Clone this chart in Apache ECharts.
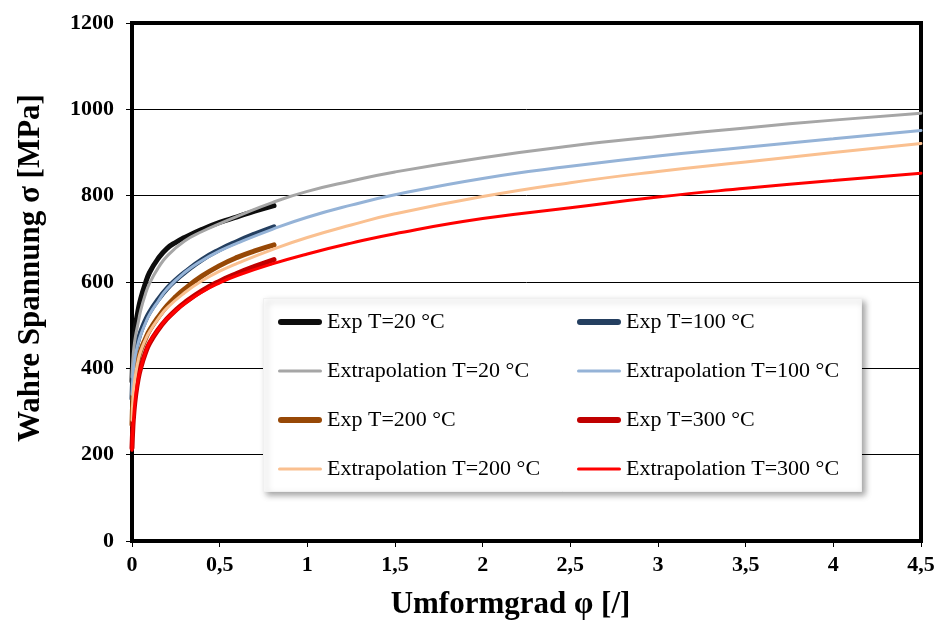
<!DOCTYPE html>
<html>
<head>
<meta charset="utf-8">
<script src="https://cdn.jsdelivr.net/npm/echarts@6/dist/echarts.min.js"></script>
<style>html,body{margin:0;padding:0;background:#fff;}#c{width:935px;height:622px;}</style>
</head>
<body>
<div id="c"></div>
<script>
// ---- data ----
const phiExp = [0, 0.005, 0.01, 0.02, 0.035, 0.05, 0.075, 0.1, 0.15, 0.2, 0.25, 0.3, 0.4, 0.5, 0.6, 0.7, 0.81];
const exp20  = [370, 430, 465, 500, 535, 562, 595, 622, 655, 678, 692, 703, 722, 738, 751, 764, 777];
const exp100 = [330, 385, 412, 440, 465, 485, 510, 530, 560, 585, 605, 622, 652, 675, 694, 711, 728];
const exp200 = [270, 330, 358, 390, 420, 442, 467, 488, 519, 545, 566, 584, 614, 638, 657, 672, 686];
const exp300 = [215, 265, 295, 335, 375, 402, 434, 458, 490, 515, 535, 552, 580, 602, 620, 636, 652];

const phiExt = [0, 0.005, 0.01, 0.02, 0.035, 0.05, 0.075, 0.1, 0.15, 0.2, 0.3, 0.4, 0.5, 0.6, 0.8, 1.0, 1.25, 1.5, 2.0, 2.5, 3.0, 3.5, 4.0, 4.5];
const ext20  = [380, 420, 445, 475, 505, 535, 570, 597, 633, 660, 695, 717, 735, 752, 784, 810, 834, 855, 888, 915, 937, 957, 975, 991];
const ext100 = [340, 380, 405, 432, 458, 478, 503, 525, 556, 584, 622, 650, 672, 690, 722, 750, 778, 802, 840, 868, 892, 912, 932, 951];
const ext200 = [280, 330, 355, 385, 418, 440, 465, 485, 515, 540, 575, 603, 625, 643, 675, 703, 732, 758, 798, 830, 856, 878, 900, 921];
const ext300 = [210, 260, 290, 335, 375, 400, 435, 460, 490, 515, 550, 577, 598, 615, 642, 665, 690, 712, 747, 772, 797, 817, 835, 852];

const names = {
  e20: 'Exp T=20 °C', e100: 'Exp T=100 °C', e200: 'Exp T=200 °C', e300: 'Exp T=300 °C',
  x20: 'Extrapolation T=20 °C', x100: 'Extrapolation T=100 °C', x200: 'Extrapolation T=200 °C', x300: 'Extrapolation T=300 °C'
};

const pairs = (xs, ys) => xs.map((x, i) => [x, ys[i]]);
const FONT = '"Liberation Serif", "Times New Roman", serif';

function line(name, xs, ys, color, width, z) {
  return {
    name, type: 'line', data: pairs(xs, ys), smooth: 0.5,
    showSymbol: false, symbol: 'none', z,
    lineStyle: { color, width, cap: 'round', join: 'round' },
    itemStyle: { color }
  };
}

const THICK = 'path://M3 0H41A3 3 0 0 1 41 6H3A3 3 0 0 1 3 0Z';
const THIN = 'path://M1.5 0H42.5A1.5 1.5 0 0 1 42.5 3H1.5A1.5 1.5 0 0 1 1.5 0Z';

const chart = echarts.init(document.getElementById('c'), null, { renderer: 'canvas' });
const legendCommon = {
  orient: 'vertical', top: 311, padding: 0, itemGap: 27, itemWidth: 44, itemHeight: 14,
  textStyle: { fontFamily: FONT, fontSize: 22, color: '#000', lineHeight: 22 },
  z: 20, selectedMode: false
};
chart.setOption({
  animation: false,
  backgroundColor: '#fff',
  grid: { left: 132, right: 14, top: 23, bottom: 81, outerBoundsMode: 'none', containLabel: false,
    show: true, borderColor: '#000', borderWidth: 4, backgroundColor: 'transparent' },
  graphic: [{
    type: 'rect', left: 263, top: 298, z: 5,
    shape: { width: 598, height: 193 },
    style: { fill: '#fff', stroke: '#f0f0f0', lineWidth: 1, shadowBlur: 6, shadowOffsetX: 3, shadowOffsetY: 3, shadowColor: 'rgba(0,0,0,0.35)' }
  }],
  legend: [
    Object.assign({ left: 278, data: [
      { name: names.e20, icon: THICK }, { name: names.x20, icon: THIN },
      { name: names.e200, icon: THICK }, { name: names.x200, icon: THIN }] }, legendCommon),
    Object.assign({ left: 577, data: [
      { name: names.e100, icon: THICK }, { name: names.x100, icon: THIN },
      { name: names.e300, icon: THICK }, { name: names.x300, icon: THIN }] }, legendCommon)
  ],
  xAxis: {
    type: 'value', min: 0, max: 4.5, interval: 0.5,
    name: 'Umformgrad φ [/]', nameLocation: 'middle', nameGap: 48,
    nameTextStyle: { fontFamily: FONT, fontSize: 31, fontWeight: 'bold', color: '#000', padding: [0, 32, 0, 0] },
    axisLine: { show: true, lineStyle: { color: '#000', width: 4 } },
    axisTick: { show: true, length: 6, lineStyle: { color: '#000', width: 1 } },
    axisLabel: { margin: 13, fontFamily: FONT, fontSize: 22, fontWeight: 'bold', color: '#000',
      formatter: v => String(v).replace('.', ',') },
    splitLine: { show: false }
  },
  yAxis: {
    type: 'value', min: 0, max: 1200, interval: 200,
    name: 'Wahre Spannung σ [MPa]', nameLocation: 'middle', nameGap: 86,
    nameTextStyle: { fontFamily: FONT, fontSize: 31, fontWeight: 'bold', color: '#000', padding: [0, 0, 0, 28] },
    axisLine: { show: true, lineStyle: { color: '#000', width: 4 } },
    axisTick: { show: true, length: 6, lineStyle: { color: '#000', width: 1 } },
    axisLabel: { margin: 18, fontFamily: FONT, fontSize: 22, fontWeight: 'bold', color: '#000',
      formatter: v => String(v) },
    splitLine: { show: true, lineStyle: { color: '#000', width: 1 } }
  },
  series: [
    line(names.e20, phiExp, exp20, '#0d0d0d', 5, 2),
    line(names.e100, phiExp, exp100, '#243F60', 5, 2),
    line(names.x20, phiExt, ext20, '#A6A6A6', 3, 3),
    line(names.x100, phiExt, ext100, '#95B3D7', 3, 3),
    line(names.e200, phiExp, exp200, '#974806', 5, 2),
    line(names.e300, phiExp, exp300, '#C00000', 5, 2),
    line(names.x200, phiExt, ext200, '#FAC090', 3, 3),
    line(names.x300, phiExt, ext300, '#FF0000', 3, 3)
  ]
});
</script>
</body>
</html>
